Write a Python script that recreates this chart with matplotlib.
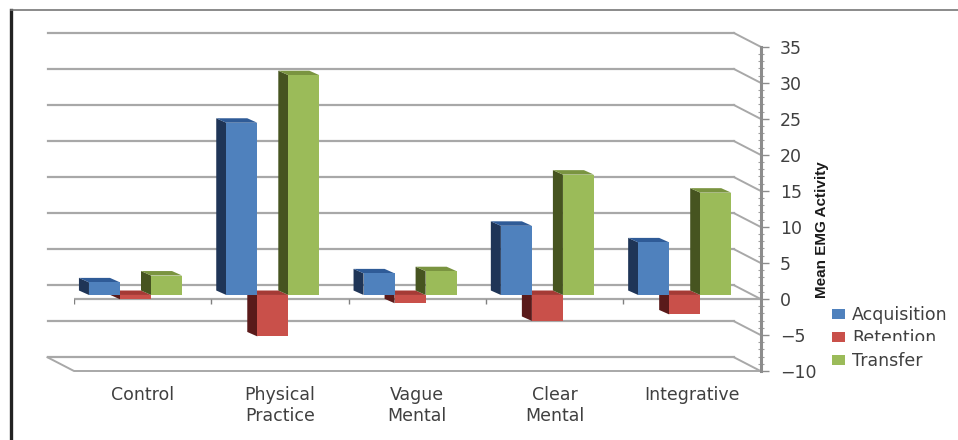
import matplotlib
matplotlib.use('Agg')
import matplotlib.pyplot as plt
from matplotlib.patches import Polygon, Patch, Rectangle
from matplotlib.lines import Line2D
import numpy as np

categories = ['Control', 'Physical\nPractice', 'Vague\nMental', 'Clear\nMental', 'Integrative']
series_names = ['Acquisition', 'Retention', 'Transfer']
acquisition = [1.75, 23.9, 3.0, 9.6, 7.3]
retention = [-0.6, -5.75, -1.15, -3.6, -2.7]
transfer = [2.7, 30.5, 3.3, 16.7, 14.2]
yticks = [-10, -5, 0, 5, 10, 15, 20, 25, 30, 35]

front_colors = ['#4f81bd', '#c9504a', '#9bbb59']
side_colors = ['#1f3557', '#5a1a1a', '#465420']
top_colors = ['#2f5b97', '#a53a35', '#7a9440']
grid_color = '#a8a8a8'
text_color = '#404040'

fig = plt.figure(figsize=(9.58, 4.40), dpi=100)
ax = fig.add_axes([74/958, 69/440, 686.5/958, 324.3/440])
ax.set_xlim(0, 5)
ax.set_ylim(-10, 35)
ax.patch.set_visible(False)

# how far the back wall sits from the front plane, in data units
wall_dx = -0.193
wall_dy = 1.9

# back wall lines and the slanted lines running forward to the value axis
for v in yticks:
    ax.plot([wall_dx, 5 + wall_dx], [v + wall_dy, v + wall_dy], color=grid_color, lw=1.6, zorder=1, clip_on=False)
    ax.plot([5 + wall_dx, 5], [v + wall_dy, v], color=grid_color, lw=1.4, zorder=1, clip_on=False)

# floor outline
ax.plot([wall_dx, 0, 5], [-10 + wall_dy, -10, -10], color=grid_color, lw=1.4, zorder=1, clip_on=False)

# category axis sits on zero
ax.plot([0, 5], [0, 0], color=grid_color, lw=1.6, zorder=2)
ax.vlines(np.arange(6), -0.7, 0, color='#808080', lw=1, zorder=2)


def draw_bar(x, value, w, color_idx):
    # base of the front face is lifted a little off the category axis
    base = 0.55
    top = base + value
    dx = -0.073
    dy = 0.62
    hi = max(base, top)
    lo = min(base, top)
    ax.add_patch(Polygon([(x, lo), (x, hi), (x + dx, hi + dy), (x + dx, lo + dy)],
                         fc=side_colors[color_idx], ec='none', zorder=3))
    ax.add_patch(Polygon([(x, hi), (x + w, hi), (x + w + dx, hi + dy), (x + dx, hi + dy)],
                         fc=top_colors[color_idx], ec='none', zorder=3))
    ax.add_patch(Rectangle((x, lo), w, hi - lo, fc=front_colors[color_idx], ec='none', zorder=3))


bar_w = 0.226
start = 0.109
values = [acquisition, retention, transfer]
# retention first, its neighbours overlap it
for j in [1, 0, 2]:
    for i, v in enumerate(values[j]):
        draw_bar(i + start + j * bar_w, v, bar_w, j)

ax.spines['left'].set_visible(False)
ax.spines['top'].set_visible(False)
ax.spines['bottom'].set_visible(False)
ax.spines['right'].set_color('#8c8c8c')
ax.spines['right'].set_linewidth(2.2)

ax.yaxis.tick_right()
ax.set_yticks(yticks)
ax.set_yticks(np.arange(-10, 36), minor=True)
ax.tick_params(axis='y', which='major', direction='out', length=6, width=1, color='#8c8c8c',
               pad=8, labelsize=12.5, labelcolor=text_color)
ax.tick_params(axis='y', which='minor', direction='inout', length=4, width=0.8, color='#a0a0a0')

ax.set_xticks(np.arange(5) + 0.5)
ax.set_xticklabels(categories, fontsize=12.5, color=text_color, linespacing=1.2)
ax.tick_params(axis='x', length=0, pad=11)

fig.text(822/958, 1 - 230/440, 'Mean EMG Activity', rotation=90, ha='center', va='center',
         fontsize=11, fontweight='bold', color='#1a1a1a', family='Liberation Sans')

handles = [Patch(fc=c, ec='none') for c in front_colors]
fig.legend(handles, series_names, loc='upper left', bbox_to_anchor=(827/958, 1 - 301/440),
           frameon=False, fontsize=12.5, labelcolor=text_color, handlelength=0.75, handleheight=0.55,
           handletextpad=0.4, labelspacing=0.29, borderpad=0.3, borderaxespad=0)

# the Retention label is cut off along its lower edge
fig.add_artist(Rectangle((850/958, 1 - 347/440), 108/958, 6/440, fc='white', ec='none', zorder=10))

# page border of the surrounding figure
fig.add_artist(Line2D([11/958, 11/958], [0, 1 - 10/440], color='#222222', lw=2.4))
fig.add_artist(Line2D([11/958, 1], [1 - 10.5/440, 1 - 10.5/440], color='#777777', lw=1.2))

fig.savefig('out.png', dpi=100)
